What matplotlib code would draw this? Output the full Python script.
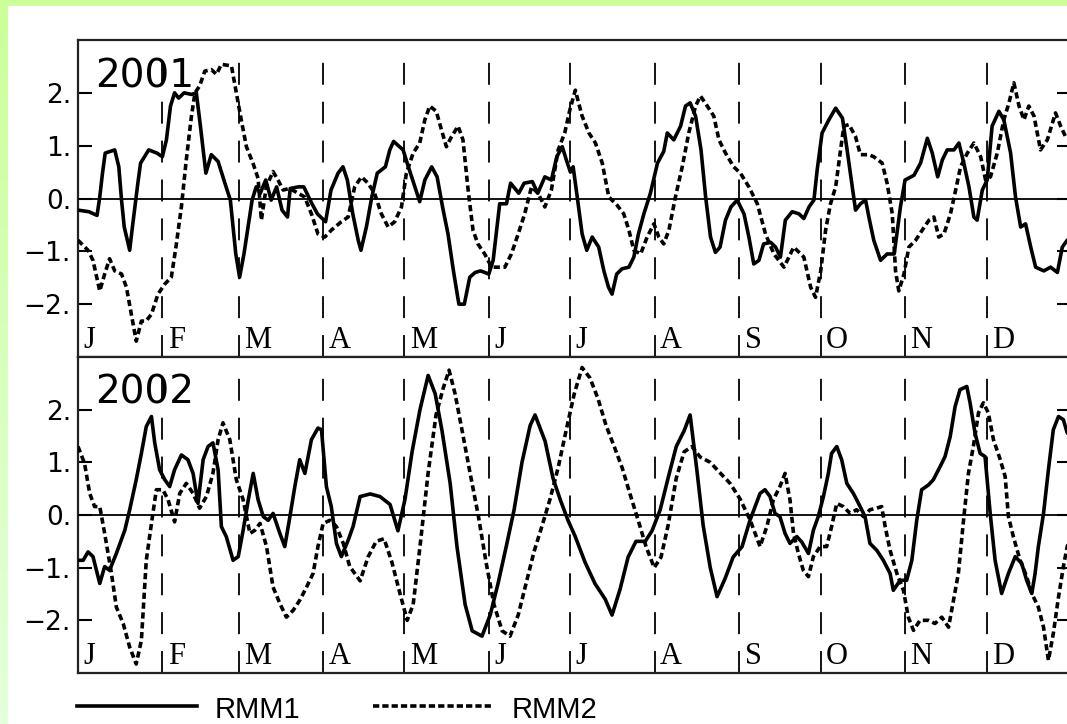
import numpy as np
import matplotlib
matplotlib.use("Agg")
import matplotlib.pyplot as plt
import matplotlib.transforms as mtransforms
from matplotlib.lines import Line2D

plt.rcParams['font.family'] = ['DejaVu Sans']
plt.rcParams['lines.scale_dashes'] = False

# day of year (0 = 1 Jan) and index value, read per series
rmm1_2001_day = [0, 4, 7, 8, 9, 10, 13.5, 15, 16, 17,
                 19, 20, 22, 23, 26, 29, 31, 32.5, 34, 35.5,
                 37, 39, 41.7, 43.5, 45, 47, 49, 51.5, 54, 56,
                 58, 59.4, 61, 64, 65.5, 67, 69, 71, 73, 75,
                 77, 78, 81, 83, 86, 88, 91, 93, 95.6, 97.4,
                 99, 101, 103, 104, 106, 108, 110, 113, 114.6, 116,
                 119.5, 121, 123, 125.6, 127.5, 130, 132, 134, 136, 138,
                 140, 142, 144, 146, 148, 151, 152.6, 154, 155, 157.5,
                 159, 162, 164, 167, 169, 171.6, 174, 176, 178, 179.5,
                 181, 182, 183.5, 185.3, 187, 189, 191.4, 193.3, 195, 196.3,
                 198, 200, 202.5, 204.3, 206, 208, 210.4, 213, 215.3, 216.6,
                 219, 221.5, 223.3, 225, 227, 229, 230.7, 232.5, 234.3, 236,
                 238, 240, 242.3, 244.8, 246.6, 248.4, 250.3, 252, 254.6, 256.4,
                 258.2, 260, 262.5, 265, 266.8, 268.7, 270.5, 271.7, 273.5, 276,
                 278.5, 281, 282.7, 284.6, 285.8, 287.6, 289.5, 290.7, 292.5, 295,
                 297.4, 300, 301, 302.3, 304, 307.3, 309.7, 312.2, 314, 316,
                 317.7, 319.5, 322, 323.8, 325.6, 327.5, 329.3, 330.5, 332.4, 334.2,
                 336, 338.5, 340.3, 342.8, 344.6, 346.5, 348.3, 350.2, 352, 355,
                 357.5, 360, 361.8, 363.6, 365]
rmm1_2001 = [-0.22, -0.25, -0.32, 0.03, 0.48, 0.86, 0.92, 0.6, -0.03, -0.54,
             -0.98, -0.54, 0.29, 0.67, 0.92, 0.86, 0.79, 1.11, 1.75, 2.0,
             1.9, 2.0, 1.97, 2.0, 1.37, 0.48, 0.83, 0.7, 0.29, -0.03,
             -1.05, -1.49, -1.05, -0.03, 0.22, 0.1, 0.35, -0.03, 0.22, -0.22,
             -0.35, 0.19, 0.22, 0.22, -0.1, -0.29, -0.44, 0.16, 0.48, 0.6,
             0.35, -0.29, -0.79, -0.98, -0.54, 0.03, 0.48, 0.6, 0.92, 1.08,
             0.92, 0.67, 0.35, -0.06, 0.35, 0.6, 0.41, -0.16, -0.67, -1.37,
             -2.0, -2.0, -1.49, -1.4, -1.37, -1.43, -1.17, -0.54, -0.1, -0.1,
             0.29, 0.1, 0.29, 0.32, 0.1, 0.41, 0.35, 0.79, 0.98, 0.73,
             0.5, 0.6, 0.03, -0.67, -0.98, -0.73, -0.92, -1.37, -1.68, -1.81,
             -1.43, -1.33, -1.3, -1.11, -0.67, -0.29, 0.1, 0.67, 0.89, 1.24,
             1.11, 1.37, 1.75, 1.81, 1.56, 0.92, 0.03, -0.73, -1.02, -0.92,
             -0.41, -0.16, -0.03, -0.29, -0.73, -1.24, -1.17, -0.86, -0.83, -0.92,
             -1.11, -0.41, -0.25, -0.29, -0.38, -0.16, -0.03, 0.54, 1.24, 1.49,
             1.71, 1.52, 0.92, 0.22, -0.22, -0.1, -0.03, -0.35, -0.79, -1.17,
             -1.05, -1.05, -0.67, -0.16, 0.35, 0.44, 0.67, 1.14, 0.86, 0.41,
             0.73, 0.92, 0.92, 1.05, 0.67, 0.22, -0.35, -0.41, 0.16, 0.35,
             1.37, 1.65, 1.49, 0.86, 0.03, -0.54, -0.48, -0.92, -1.3, -1.37,
             -1.3, -1.4, -0.92, -0.79, -0.75]

rmm2_2001_day = [0, 3.7, 5.5, 8, 9.8, 11.6, 13.5, 16, 17.8, 19.6,
                 21.4, 23.3, 25, 27, 29.4, 31.9, 34.3, 36, 38, 39.8,
                 41.7, 43, 44.7, 46.6, 49, 50.9, 52.7, 56.4, 58.2, 60,
                 61.9, 64.3, 66.2, 67.4, 69.2, 71.7, 73.5, 75.4, 77.8, 80.9,
                 83.3, 85.8, 88.2, 90.7, 93.1, 96.8, 99.3, 101.7, 104.2, 106.6,
                 109, 111.5, 114, 116.4, 118.9, 120.7, 123.2, 125.6, 127.5, 129.3,
                 131.7, 133.6, 135.4, 137.3, 139.7, 141.5, 143.4, 145.2, 147, 149.5,
                 152, 154.4, 156.9, 159.3, 161.8, 164.2, 166.7, 169.1, 171.6, 174,
                 176.5, 178.9, 180.8, 182.8, 185.3, 187.8, 190.2, 192.7, 195.1, 198.2,
                 200.6, 202.5, 204.3, 206.8, 209.2, 211.7, 213.5, 215.3, 217.2, 219.6,
                 222.1, 224.5, 227, 228.8, 231.3, 233.7, 235.6, 238, 241, 243.5,
                 246.6, 249.7, 252.7, 255.8, 259.5, 263.1, 266.8, 269.3, 271.1, 273,
                 274.8, 276.6, 278.5, 280.3, 281.5, 283.4, 285.8, 287.6, 290.7, 292.5,
                 295.6, 297.4, 299.3, 300.5, 301.7, 303.6, 305.4, 307.9, 310.3, 312.8,
                 314.6, 316.4, 318.3, 320.7, 322.6, 324.4, 326.9, 329.3, 331.8, 333.6,
                 335.4, 337.9, 340.3, 342.2, 344, 345.9, 347.7, 349.5, 351.4, 353.8,
                 356.3, 359.3, 361.2, 363, 365]
rmm2_2001 = [-0.79, -0.98, -1.17, -1.75, -1.43, -1.14, -1.37, -1.43, -1.68, -2.19,
             -2.7, -2.32, -2.32, -2.19, -1.81, -1.62, -1.49, -0.92, -0.16, 0.73,
             1.56, 2.0, 2.13, 2.41, 2.44, 2.35, 2.54, 2.51, 2.0, 1.49,
             0.98, 0.67, 0.38, -0.41, 0.22, 0.51, 0.35, 0.16, 0.19, 0.1,
             0.03, -0.29, -0.67, -0.73, -0.6, -0.44, -0.35, 0.22, 0.41, 0.29,
             0.1, -0.29, -0.54, -0.44, -0.16, 0.48, 0.86, 1.05, 1.49, 1.75,
             1.65, 1.3, 0.98, 1.17, 1.37, 1.11, 0.16, -0.6, -0.86, -1.05,
             -1.3, -1.3, -1.3, -1.05, -0.67, -0.29, 0.22, 0.1, -0.16, 0.16,
             0.92, 1.24, 1.68, 2.05, 1.56, 1.24, 1.05, 0.67, 0.03, -0.13,
             -0.29, -0.6, -0.98, -1.05, -0.73, -0.48, -0.73, -0.86, -0.6, 0.03,
             0.6, 1.24, 1.75, 1.94, 1.75, 1.56, 1.11, 0.86, 0.6, 0.48,
             0.22, -0.1, -0.67, -1.05, -1.3, -0.92, -1.11, -1.68, -1.87, -1.37,
             -0.6, -0.1, 0.22, 0.92, 1.37, 1.4, 1.17, 0.83, 0.83, 0.79,
             0.67, 0.29, -0.29, -1.37, -1.75, -1.43, -0.92, -0.79, -0.6, -0.41,
             -0.35, -0.73, -0.67, -0.29, 0.16, 0.6, 0.86, 1.05, 0.79, 0.35,
             0.41, 0.86, 1.49, 1.81, 2.19, 1.75, 1.49, 1.75, 1.56, 0.92,
             1.11, 1.62, 1.37, 1.17, 1.2]

rmm1_2002_day = [0, 1.9, 3.7, 5.5, 8, 9.8, 11.6, 14.1, 17.2, 19,
                 21.4, 23.3, 25.1, 27, 28.2, 30, 31.9, 33.7, 35.5, 38,
                 40.4, 42.3, 44.1, 46, 47.8, 49.6, 51.5, 52.7, 54.5, 57,
                 58.9, 60.7, 62.6, 64.4, 66.2, 68.1, 69.9, 71.7, 74.2, 76,
                 77.9, 79.7, 81.5, 83.4, 85.8, 88.2, 89.5, 91.3, 93.1, 95,
                 96.8, 99.3, 101.1,
                 103.7, 107.4, 111, 114.7, 117.6, 120.2, 122.8, 125.7, 128.7, 131.3,
                 133.8, 136.8, 139.3, 142.3, 144.9, 148.5, 151.5, 154.4, 157.4, 160.3,
                 163.2, 166.2, 168, 171.7, 174.6, 177.2, 180.1, 182.7, 186.4, 190,
                 193.8, 196.3, 199.3, 202.2, 205.1, 208.5, 211, 214, 216.9, 219.9,
                 222.8, 225, 227.6, 229.8, 232.4, 234.9, 237.9, 240.8, 244.1, 247,
                 250.7, 252.5, 254.4, 256.2, 258, 259.9, 261.7, 264.2, 266, 268.5,
                 270.3, 272.1, 274, 275.8, 277, 278.9, 280.7, 282.6, 285, 287.5,
                 289.3, 291.1, 293.6, 296, 298.5, 299.7, 302.2, 304.6, 306.5, 308.3,
                 310.1, 312.6, 314.4, 316.9, 318.7, 320.6, 322.4, 324.2, 326.7, 327.9,
                 329.7, 331.6, 333.4, 335.3, 337.1, 339.5, 342, 344.5, 346.9, 348.7,
                 350.6, 351.8, 353, 354.9, 356.7, 358.5, 360.4, 362.2, 363.6, 365]
rmm1_2002 = [-0.86, -0.86, -0.7, -0.79, -1.3, -0.98, -1.05, -0.73, -0.29, 0.1,
             0.67, 1.17, 1.68, 1.87, 1.37, 0.86, 0.67, 0.54, 0.86, 1.14,
             1.05, 0.79, 0.22, 1.05, 1.3, 1.37, 0.86, -0.22, -0.41, -0.86,
             -0.79, -0.29, 0.29, 0.79, 0.29, -0.03, -0.1, 0.03, -0.35, -0.6,
             -0.03, 0.54, 1.05, 0.79, 1.43, 1.65, 1.62, 0.54, 0.16, -0.54,
             -0.79, -0.48, -0.22,
             0.35, 0.4, 0.35, 0.2, -0.3, 0.3, 1.2, 2.0, 2.65, 2.3,
             1.6, 0.6, -0.6, -1.7, -2.2, -2.3, -1.9, -1.3, -0.6, 0.1,
             1.0, 1.7, 1.9, 1.4, 0.7, 0.3, -0.1, -0.4, -0.9, -1.3,
             -1.6, -1.9, -1.4, -0.8, -0.5, -0.5, -0.3, 0.1, 0.7, 1.3,
             1.6, 1.9, 0.8, -0.2, -1.0, -1.55, -1.2, -0.8, -0.6, -0.1,
             0.41, 0.48, 0.35, 0.03, -0.03, -0.35, -0.54, -0.41, -0.51, -0.73,
             -0.29, -0.03, 0.35, 0.79, 1.17, 1.3, 1.05, 0.6, 0.41, 0.16,
             -0.03, -0.54, -0.67, -0.86, -1.11, -1.43, -1.24, -1.24, -0.86, -0.1,
             0.48, 0.57, 0.67, 0.92, 1.11, 1.49, 2.06, 2.38, 2.44, 2.13,
             1.56, 1.17, 1.11, 0.03, -0.86, -1.49, -1.11, -0.79, -0.92, -1.24,
             -1.49, -1.11, -0.6, 0.03, 0.86, 1.62, 1.87, 1.81, 1.56, 1.5]

rmm2_2002_day = [0, 2.4, 4.3, 6.1, 8, 9.8, 12.3, 14.1, 16.6, 19,
                 21.4, 23.3, 25.1, 27, 28.8, 31.2, 33.1, 35.5, 37.4, 39.8,
                 42.3, 44.7, 47.2, 49.6, 51.5, 53.3, 55.8, 58.2, 60.7, 63.2,
                 65, 66.9, 69.3, 71.7, 74.2, 76.6, 79.1, 81.5, 84, 86.4,
                 88.2, 90.1, 92.6, 95, 97.5, 99.9,
                 103.7, 106.6, 109.6, 112.5, 115.4, 118.4, 121, 123.2, 125.7, 128.7,
                 131.6, 134.2, 136.4, 138.6, 141.2, 144.1, 147.1, 150, 152.9, 155.9,
                 158.8, 161.8, 164.7, 167.6, 170.6, 173.5, 176.5, 179.4, 182.4, 185.3,
                 188.2, 191.2, 194.1, 197.1, 200, 202.9, 205.9, 208.8, 211.8, 214.3,
                 216.9, 219.9, 222.8, 225.7, 228.7, 232.4, 236, 239.7, 243.4, 247.1,
                 250.7, 253.2, 255.6, 258, 259.9, 261.7, 263, 264.8, 266.6, 268.5,
                 270.3, 272.8, 275.2, 277, 278.9, 281.3, 283.8, 286.2, 288.7, 291.1,
                 293.6, 295.4, 296.7, 298.5, 301, 303.4, 305.2, 307.1, 309.5, 312.6,
                 315, 317.5, 320, 321.8, 323.6, 325.5, 327.3, 329.1, 331, 332.8,
                 334.6, 336.5, 339, 340.8, 342, 343.8, 346.3, 348.7, 350.6, 353,
                 354.9, 356.7, 358.5, 360.4, 362.2, 363.6, 365]
rmm2_2002 = [1.3, 0.98, 0.41, 0.16, 0.16, -0.35, -1.11, -1.75, -2.06, -2.51,
             -2.83, -2.38, -0.86, -0.16, 0.48, 0.48, 0.29, -0.13, 0.41, 0.6,
             0.41, 0.13, 0.35, 0.79, 1.43, 1.75, 1.43, 0.67, 0.29, -0.35,
             -0.29, -0.16, -0.6, -1.37, -1.68, -1.94, -1.81, -1.62, -1.37, -1.11,
             -0.6, -0.16, -0.1, -0.22, -0.54, -0.98,
             -1.25, -0.8, -0.5, -0.45, -0.9, -1.5, -2.0, -1.7, -0.6, 0.8,
             1.9, 2.4, 2.75, 2.3, 1.6, 0.8, 0.0, -0.9, -1.7, -2.2,
             -2.3, -1.9, -1.3, -0.7, -0.2, 0.3, 0.9, 1.6, 2.3, 2.8,
             2.6, 2.2, 1.7, 1.3, 0.9, 0.4, -0.1, -0.6, -1.0, -0.8,
             -0.2, 0.7, 1.2, 1.3, 1.1, 1.0, 0.8, 0.6, 0.3, -0.1,
             -0.6, -0.22, 0.29, 0.54, 0.79, 0.29, -0.35, -0.73, -1.05, -1.17,
             -0.79, -0.6, -0.6, -0.22, 0.22, 0.16, 0.03, 0.1, -0.03, 0.1,
             0.13, 0.16, -0.22, -0.67, -1.11, -1.43, -1.94, -2.19, -2.0, -2.0,
             -2.06, -1.94, -2.13, -1.62, -1.11, -0.1, 0.79, 1.3, 1.94, 2.13,
             1.94, 1.43, 1.05, 0.73, -0.03, -0.41, -0.86, -1.17, -1.49, -1.75,
             -2.13, -2.76, -2.25, -1.56, -0.98, -0.6, -0.4]

years = ['2001', '2002']
month_start = [0, 31, 59, 90, 120, 151, 181, 212, 243, 273, 304, 334]
month_labels = ['J', 'F', 'M', 'A', 'M', 'J', 'J', 'A', 'S', 'O', 'N', 'D']
ytick_vals = [2, 1, 0, -1, -2]
ytick_labels = ['2.', '1.', '0.', '\u22121.', '\u22122.']

W, H = 1067, 724
fig = plt.figure(figsize=(W / 100, H / 100), dpi=100)

# pale green frame round the white page, a little lighter towards the bottom
bg = np.ones((H, W, 3))
top_col = np.array([204, 255, 153]) / 255
bot_col = np.array([228, 255, 220]) / 255
t = np.linspace(0, 1, H)[:, None]
bg[:, :8, :] = (top_col * (1 - t) + bot_col * t)[:, None, :]
bg[:6, :, :] = top_col
fig.figimage(bg, 0, 0, zorder=-10)

panels = [
    (years[0], rmm1_2001_day, rmm1_2001, rmm2_2001_day, rmm2_2001, 40, 357),
    (years[1], rmm1_2002_day, rmm1_2002, rmm2_2002_day, rmm2_2002, 357, 673),
]

for year, d1, v1, d2, v2, top, bot in panels:
    ax = fig.add_axes([78 / W, 1 - bot / H, 993 / W, (bot - top) / H])
    ax.set_facecolor('white')
    ax.set_xlim(0, 365)
    ax.set_ylim(-3, 3)

    ax.plot(d1, v1, color='black', lw=2.6, zorder=4)
    ax.plot(d2, v2, color='black', lw=2.6, linestyle=(0, (4.5, 2.6)), zorder=4)
    ax.axhline(0, color='black', lw=1.3, zorder=3)

    for m in month_start[1:]:
        ax.axvline(m, ymin=0, ymax=0.945, color='black', lw=1.3,
                   linestyle=(0, (15.8, 12.2)), zorder=2)

    trans = mtransforms.blended_transform_factory(ax.transData, ax.transAxes)
    for m, lab in zip(month_start, month_labels):
        ax.text(m + 2.0, 0.028, lab, transform=trans, fontsize=22,
                family=['Liberation Serif', 'DejaVu Serif'], va='baseline')

    ax.text(0.017, 1 - 47 / (bot - top), year, transform=ax.transAxes,
            fontsize=28, va='baseline')

    ax.set_xticks([])
    ax.set_yticks(ytick_vals)
    ax.set_yticklabels(ytick_labels, fontsize=19)
    ax.tick_params(axis='y', direction='in', length=10, width=1.5, pad=5,
                   right=True, labelright=False)
    for sp in ax.spines.values():
        sp.set_linewidth(1.6)
        sp.set_color('#222222')

# key below the lower panel
ly = 1 - 706 / H
fig.add_artist(Line2D([77 / W, 197 / W], [ly, ly], color='black', lw=2.6,
                      transform=fig.transFigure))
fig.text(215 / W, 1 - 718 / H, 'RMM1', fontsize=21, va='baseline',
         family=['Liberation Sans'])
fig.add_artist(Line2D([373 / W, 492 / W], [ly, ly], color='black', lw=2.6,
                      linestyle=(0, (4.5, 2.2)), transform=fig.transFigure))
fig.text(512 / W, 1 - 718 / H, 'RMM2', fontsize=21, va='baseline',
         family=['Liberation Sans'])

fig.savefig('out.png', dpi=100)
